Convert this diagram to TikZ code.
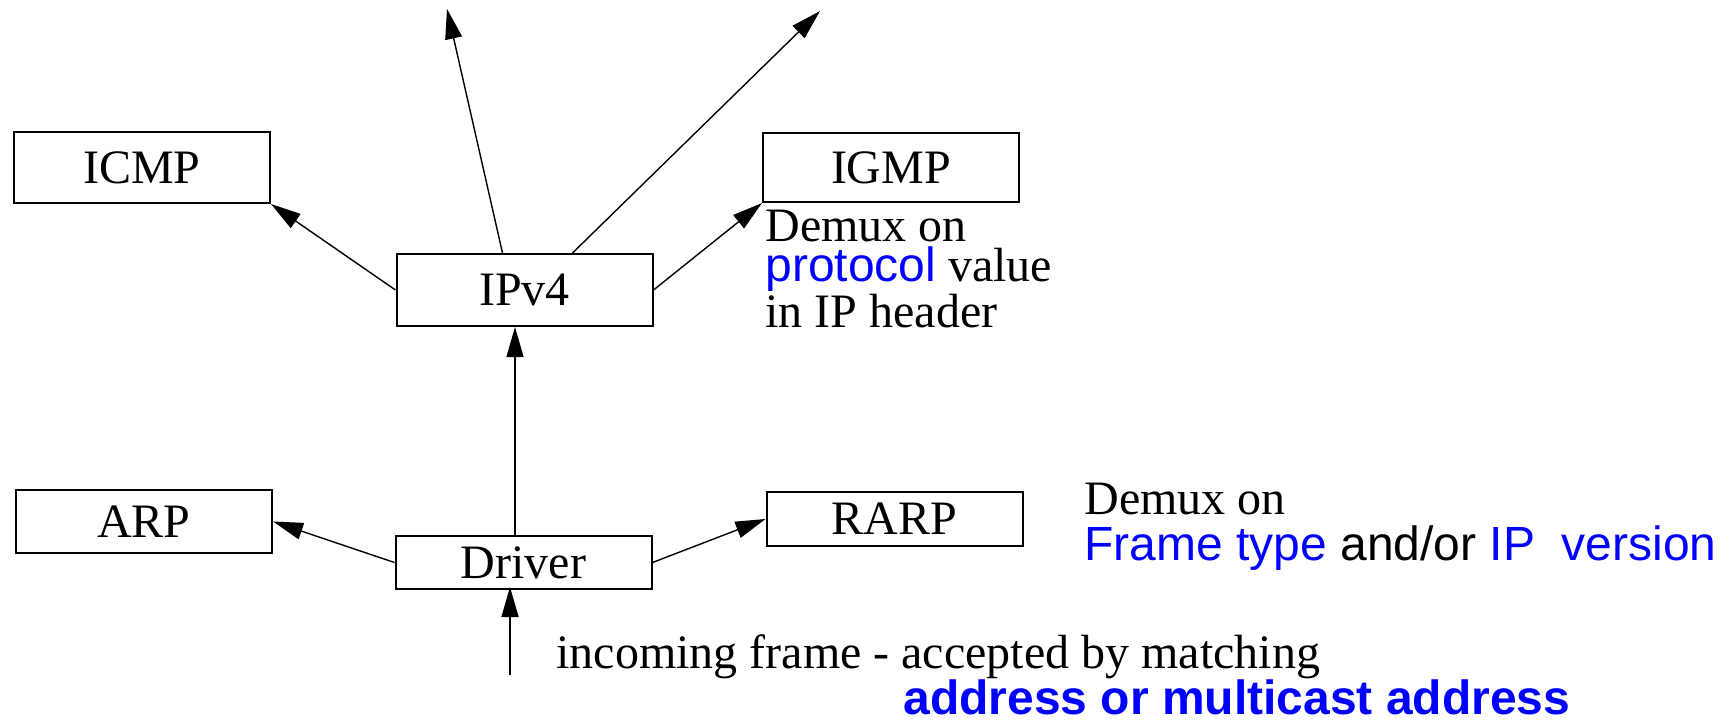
\documentclass[tikz,border=0pt]{standalone}
\usepackage{fontspec}
\setmainfont{Liberation Serif}
\setsansfont{Liberation Sans}
\usetikzlibrary{arrows.meta,calc}
\definecolor{pblue}{RGB}{0,0,255}
\tikzset{
  box/.style={draw, line width=1pt, inner sep=0pt, minimum width=128pt,
    font=\fontsize{24}{24}\selectfont},
  conn/.style={line width=0.7pt, -{Triangle[length=15pt,width=8.5pt]}},
  lbl/.style={inner sep=0pt, anchor=base west, font=\fontsize{24}{24}\selectfont},
}
\begin{document}
\begin{tikzpicture}[x=0.5pt,y=-0.5pt]
\useasboundingbox (0,0) rectangle (1722,725);
% boxes
\node[box, minimum height=35.5pt] (icmp) at (142,167.5) {ICMP};
\node[box, minimum height=34.5pt] (igmp) at (891,167.5) {IGMP};
\node[box, minimum height=36pt] (ipv4) at (524.5,290) {IPv4};
\node[box, minimum height=31.5pt] (arp) at (144,521.5) {ARP};
\node[box, minimum height=27pt] (rarp) at (894.5,519) {RARP};
\node[box, minimum height=26.5pt] (driver) at (523.5,562.5) {Driver};
% free ends
\coordinate (upl) at (447,9);
\coordinate (upr) at (820,11);
\coordinate (inc) at (510,675);
% connectors
\draw[conn] (ipv4.west) -- (icmp.south east);
\draw[conn] (ipv4.east) -- (igmp.south west);
\draw[conn] ($(ipv4.north west)+(107,0)$) -- (upl);
\draw[conn] ($(ipv4.north west)+(177,0)$) -- (upr);
\draw[conn] ($(driver.north)+(-8.5,0)$) -- ($(ipv4.south)+(-9.5,0)$);
\draw[conn] (driver.west) -- (arp.east);
\draw[conn] (driver.east) -- (rarp.west);
\draw[conn] (inc) -- ($(driver.south)+(-13.5,-3)$);
% labels
\node[lbl, align=left, font=\fontsize{24}{20}\selectfont] (d1) at (765,327)
  {Demux on\\ \textcolor{pblue}{\sffamily protocol} value\\ in IP header};
\node[lbl] (e1) at (1084,514) {Demux on};
\node[lbl] (e2) at (1084,560) {\sffamily\textcolor{pblue}{Frame type} and/or \textcolor{pblue}{IP\ \ version}};
\node[lbl] (f1) at (556,668) {incoming frame - accepted by matching};
\node[lbl] (f2) at (903,714) {\sffamily\bfseries\textcolor{pblue}{address or multicast address}};
\end{tikzpicture}
\end{document}
